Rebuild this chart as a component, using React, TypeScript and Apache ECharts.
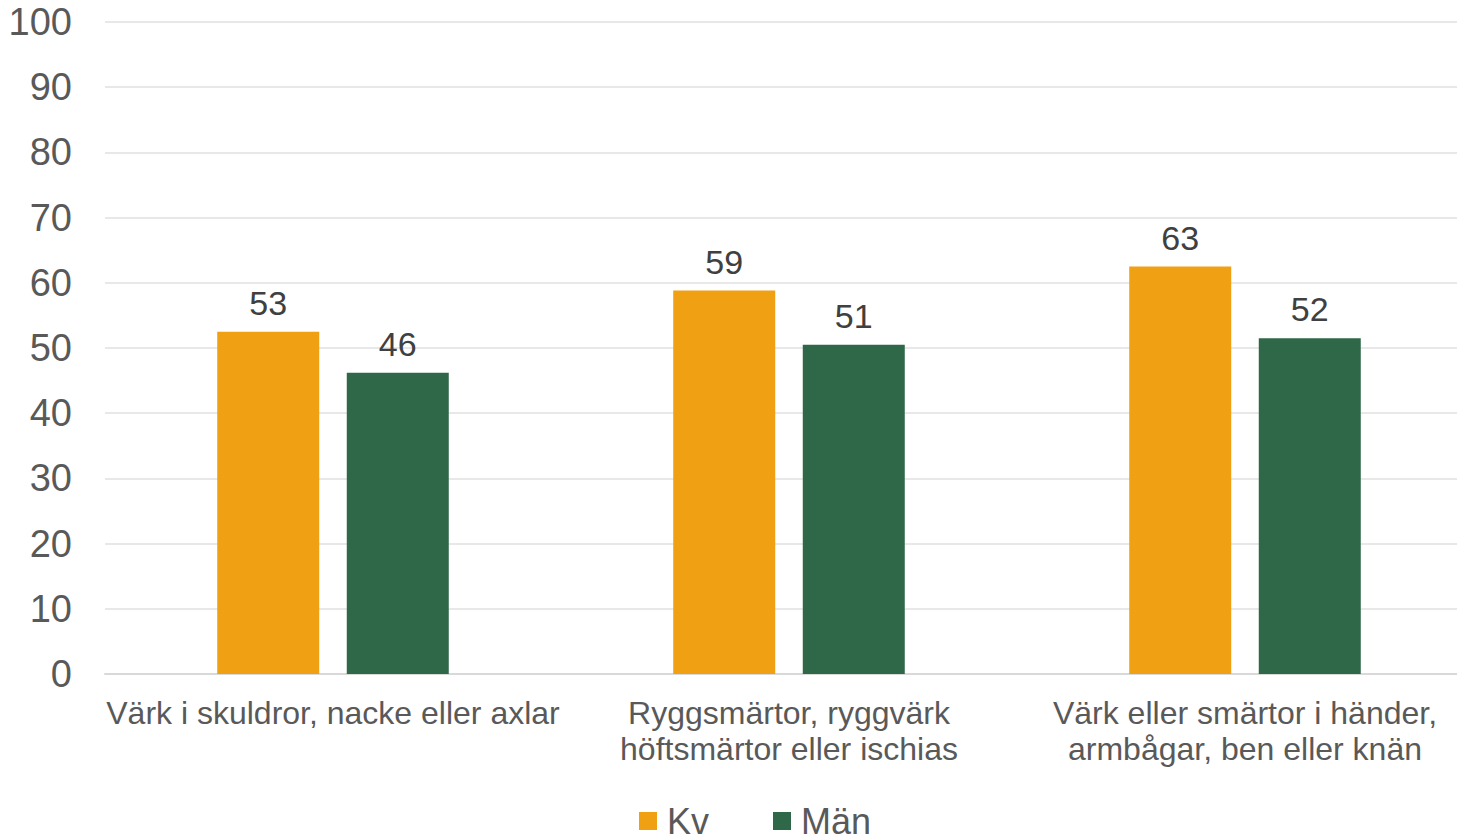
import React, { useEffect, useRef } from "react";
import * as echarts from "echarts";

const categories = [
  "Värk i skuldror, nacke eller axlar",
  "Ryggsmärtor, ryggvärk\nhöftsmärtor eller ischias",
  "Värk eller smärtor i händer,\narmbågar, ben eller knän",
];
const seriesNames = ["Kv", "Män"];
const kvValues = [52.5, 58.8, 62.5];
const manValues = [46.2, 50.5, 51.5];
const yTicks = { min: 0, max: 100, interval: 10 };

const FONT = "'Liberation Sans', Arial, sans-serif";

export default function App() {
  const ref = useRef<HTMLDivElement>(null);
  useEffect(() => {
    if (!ref.current) return;
    const chart = echarts.init(ref.current, null, { renderer: "svg" });
    const label = {
      show: true,
      position: "top" as const,
      distance: 12,
      color: "#404040",
      fontSize: 34,
      fontFamily: FONT,
      formatter: (p: any) => String(Math.round(p.value)),
    };
    chart.setOption({
      animation: false,
      textStyle: { fontFamily: FONT },
      grid: { left: 105, top: 22, right: 0, bottom: 162, containLabel: false },
      legend: {
        left: 634,
        top: 798,
        itemWidth: 18,
        itemHeight: 18,
        itemGap: 64,
        icon: "rect",
        textStyle: { fontSize: 36, color: "#595959", fontFamily: FONT, padding: [0, 0, 0, 5] },
        data: seriesNames,
      },
      xAxis: {
        type: "category",
        data: categories,
        axisLine: { lineStyle: { color: "#d9d9d9", width: 2 } },
        axisTick: { show: false },
        axisLabel: {
          color: "#595959",
          fontSize: 32,
          lineHeight: 36,
          margin: 21,
          fontFamily: FONT,
          interval: 0,
        },
      },
      yAxis: {
        type: "value",
        min: yTicks.min,
        max: yTicks.max,
        interval: yTicks.interval,
        axisLine: { show: false },
        axisTick: { show: false },
        splitLine: { lineStyle: { color: "#e8e8e8", width: 2 } },
        axisLabel: { color: "#595959", fontSize: 38, margin: 33, fontFamily: FONT },
      },
      series: [
        {
          name: seriesNames[0],
          type: "bar",
          data: kvValues,
          barWidth: 102,
          barGap: "27%",
          itemStyle: { color: "#EFA013" },
          label,
        },
        {
          name: seriesNames[1],
          type: "bar",
          data: manValues,
          barWidth: 102,
          itemStyle: { color: "#2F6848" },
          label,
        },
      ],
    });
    return () => chart.dispose();
  }, []);
  return (
    <div style={{ position: "fixed", left: 0, top: 0, width: 1457, height: 836, overflow: "hidden", background: "#fff" }}>
      <div ref={ref} style={{ width: 1473, height: 836 }} />
    </div>
  );
}
